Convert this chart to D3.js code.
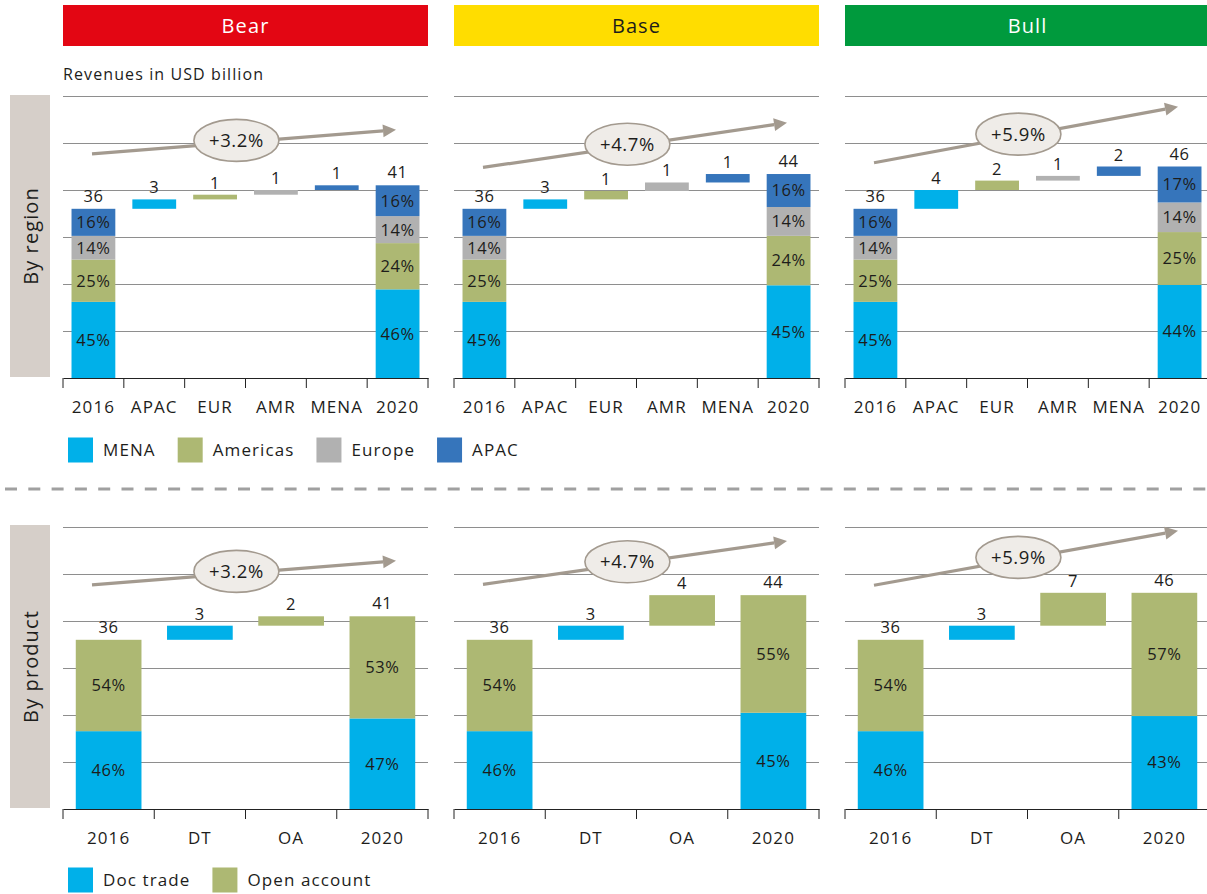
<!DOCTYPE html>
<html>
<head>
<meta charset="utf-8">
<script src="https://cdn.jsdelivr.net/npm/d3@7"></script>
<style>
  body { margin: 0; background: #fff; }
  text { font-family: "Open Sans", sans-serif; fill: #1d1d1b; letter-spacing: 0.6px; }
  text.wide { letter-spacing: 1.1px; }
</style>
</head>
<body>
<svg width="1207" height="894"></svg>
<script>
// scenarios
var scenarios = ['Bear', 'Base', 'Bull'];
var cagr = ['+3.2%', '+4.7%', '+5.9%'];

// by region
var regionCats = ['2016', 'APAC', 'EUR', 'AMR', 'MENA', '2020'];
var regionSeries = ['MENA', 'Americas', 'Europe', 'APAC'];
var regionStart = [36, 36, 36];
var regionEnd = [41, 44, 46];
var regionStepLabels = [[3, 1, 1, 1], [3, 1, 1, 1], [4, 2, 1, 2]];
var regionSteps = [[2, 1, 1, 1], [2, 1.8, 1.8, 1.8], [4, 2, 1, 2]];
var regionShare2016 = [[45, 25, 14, 16], [45, 25, 14, 16], [45, 25, 14, 16]];
var regionShare2020 = [[46, 24, 14, 16], [45, 24, 14, 16], [44, 25, 14, 17]];

// by product
var productCats = ['2016', 'DT', 'OA', '2020'];
var productSeries = ['Doc trade', 'Open account'];
var productStart = [36, 36, 36];
var productEnd = [41, 44, 46];
var productStepLabels = [[3, 2], [3, 4], [3, 7]];
var productSteps = [[3, 2], [3, 6.5], [3, 7]];
var productShare2016 = [[46, 54], [46, 54], [46, 54]];
var productShare2020 = [[47, 53], [45, 55], [43, 57]];

var gridTicks = [10, 20, 30, 40, 50, 60];

// CAGR arrow ends, in chart units
var regionArrow = [[47.7, 52.8], [44.8, 54.3], [45.8, 57.7]];
var productArrow = [[47.7, 52.8], [47.8, 57], [47.6, 59.2]];

var headerColors = ['#e30613', '#ffdd00', '#009a3d'];
var headerText = ['#fff', '#1d1d1b', '#fff'];
var seriesColors = ['#00b0e9', '#adb873', '#b1b1b1', '#3675bb'];
var arrowColor = '#a39a8f';

var svg = d3.select('svg');
var panelW = 365;
var panelX = [63, 454, 845];

// headers
scenarios.forEach(function(s, i) {
  svg.append('rect')
    .attr('x', panelX[i]).attr('y', 5)
    .attr('width', panelW).attr('height', 41)
    .attr('fill', headerColors[i]);
  svg.append('text')
    .attr('class', 'wide')
    .attr('x', panelX[i] + panelW / 2).attr('y', 26)
    .attr('dy', '0.35em')
    .attr('text-anchor', 'middle')
    .style('font-size', '20px')
    .style('fill', headerText[i])
    .text(s);
});

svg.append('text')
  .attr('class', 'wide')
  .attr('x', 63).attr('y', 80)
  .style('font-size', '16px')
  .text('Revenues in USD billion');

// side labels
function sideLabel(y0, y1, label) {
  svg.append('rect')
    .attr('x', 10).attr('y', y0)
    .attr('width', 40).attr('height', y1 - y0)
    .attr('fill', '#d6cfc9');
  svg.append('text')
    .attr('class', 'wide')
    .attr('transform', 'translate(31,' + (y0 + y1) / 2 + ') rotate(-90)')
    .attr('text-anchor', 'middle')
    .attr('dy', '0.35em')
    .style('font-size', '20px')
    .text(label);
}
sideLabel(95, 377, 'By region');
sideLabel(525, 808, 'By product');

// separator
svg.append('line')
  .attr('x1', 5).attr('x2', 1207)
  .attr('y1', 489).attr('y2', 489)
  .attr('stroke', '#a0a0a0')
  .attr('stroke-width', 3)
  .attr('stroke-dasharray', '12 11.3');

function drawPanel(opt) {
  var g = svg.append('g').attr('transform', 'translate(' + opt.x0 + ',0)');

  var x = d3.scaleBand()
    .domain(opt.cats)
    .range([0, panelW])
    .paddingInner(0.28)
    .paddingOuter(0.14);

  var y = d3.scaleLinear()
    .domain([0, 60])
    .range([opt.base, opt.base - 282]);

  // gridlines
  var grid = g.append('g')
    .call(d3.axisLeft(y).tickValues(gridTicks).tickSize(-panelW).tickFormat(''));
  grid.select('.domain').remove();
  grid.selectAll('line').attr('stroke', '#8e8e8e').attr('stroke-width', 1);

  var n = opt.cats.length;

  function stacked(cat, total, shares) {
    var cum = 0;
    shares.forEach(function(p, k) {
      var v = total * p / 100;
      var lo = cum, hi = cum + v;
      cum = hi;
      g.append('rect')
        .attr('x', x(cat)).attr('width', x.bandwidth())
        .attr('y', y(hi)).attr('height', y(lo) - y(hi))
        .attr('fill', seriesColors[k]);
      g.append('text')
        .attr('x', x(cat) + x.bandwidth() / 2)
        .attr('y', (y(lo) + y(hi)) / 2)
        .attr('dy', '0.36em')
        .attr('text-anchor', 'middle')
        .style('font-size', '16.5px')
        .text(p + '%');
    });
    return cum;
  }

  // 2016 stacked bar
  var top16 = stacked(opt.cats[0], opt.start, opt.share16);
  g.append('text')
    .attr('x', x(opt.cats[0]) + x.bandwidth() / 2)
    .attr('y', y(top16) - 7)
    .attr('text-anchor', 'middle')
    .style('font-size', '16.5px')
    .text(opt.start);

  // floating steps
  var cum = opt.start;
  opt.steps.forEach(function(v, k) {
    var cat = opt.cats[k + 1];
    var lo = cum, hi = cum + v;
    cum = hi;
    g.append('rect')
      .attr('x', x(cat)).attr('width', x.bandwidth())
      .attr('y', y(hi)).attr('height', y(lo) - y(hi))
      .attr('fill', seriesColors[k % opt.nSeries]);
    g.append('text')
      .attr('x', x(cat) + x.bandwidth() / 2)
      .attr('y', y(hi) - 6)
      .attr('text-anchor', 'middle')
      .style('font-size', '16.5px')
      .text(opt.stepLabels[k]);
  });

  // 2020 stacked bar, drawn to the end of the walk
  var sum20 = d3.sum(opt.share20);
  var top20 = stacked(opt.cats[n - 1], cum * 100 / sum20, opt.share20);
  g.append('text')
    .attr('x', x(opt.cats[n - 1]) + x.bandwidth() / 2)
    .attr('y', y(top20) - 7)
    .attr('text-anchor', 'middle')
    .style('font-size', '16.5px')
    .text(opt.end);

  // axis
  var ax = g.append('g')
    .attr('transform', 'translate(0,' + y(0) + ')')
    .call(d3.axisBottom(x).tickSize(0).tickPadding(23));
  ax.select('.domain').attr('stroke', '#222');
  ax.selectAll('text')
    .attr('font-family', null).attr('font-size', null)
    .attr('class', 'wide')
    .style('font-size', '17px')
    .style('fill', '#1d1d1b');
  d3.range(n + 1).forEach(function(i) {
    ax.append('line')
      .attr('x1', i * x.step()).attr('x2', i * x.step())
      .attr('y1', 0).attr('y2', 10)
      .attr('stroke', '#222');
  });

  // CAGR arrow
  var xa = 29, xb = 333;
  var ya = y(opt.arrow[0]), yb = y(opt.arrow[1]);
  var ang = Math.atan2(yb - ya, xb - xa);
  var hl = 13, hw = 6.5;
  var bx = xb - hl * Math.cos(ang), by = yb - hl * Math.sin(ang);
  g.append('line')
    .attr('x1', xa).attr('y1', ya)
    .attr('x2', bx).attr('y2', by)
    .attr('stroke', arrowColor).attr('stroke-width', 3.2);
  g.append('path')
    .attr('d', 'M' + xb + ',' + yb +
      'L' + (bx - hw * Math.sin(ang)) + ',' + (by + hw * Math.cos(ang)) +
      'L' + (bx + hw * Math.sin(ang)) + ',' + (by - hw * Math.cos(ang)) + 'Z')
    .attr('fill', arrowColor);
  var t = 0.475;
  var ex = xa + t * (xb - xa), ey = ya + t * (yb - ya) - 2;
  g.append('ellipse')
    .attr('cx', ex).attr('cy', ey)
    .attr('rx', 42.5).attr('ry', 21)
    .attr('fill', '#efece8')
    .attr('stroke', arrowColor).attr('stroke-width', 1.6);
  g.append('text')
    .attr('x', ex).attr('y', ey)
    .attr('dy', '0.36em')
    .attr('text-anchor', 'middle')
    .style('font-size', '18.5px')
    .text(opt.cagr);
}

scenarios.forEach(function(s, i) {
  drawPanel({
    x0: panelX[i], base: 378, cats: regionCats, nSeries: regionSeries.length,
    start: regionStart[i], end: regionEnd[i],
    steps: regionSteps[i], stepLabels: regionStepLabels[i],
    share16: regionShare2016[i], share20: regionShare2020[i],
    arrow: regionArrow[i], cagr: cagr[i]
  });
  drawPanel({
    x0: panelX[i], base: 809, cats: productCats, nSeries: productSeries.length,
    start: productStart[i], end: productEnd[i],
    steps: productSteps[i], stepLabels: productStepLabels[i],
    share16: productShare2016[i], share20: productShare2020[i],
    arrow: productArrow[i], cagr: cagr[i]
  });
});

// legends
function legend(series, cy) {
  var xpos = 68;
  series.forEach(function(s, k) {
    svg.append('rect')
      .attr('x', xpos).attr('y', cy - 12.5)
      .attr('width', 25).attr('height', 25)
      .attr('fill', seriesColors[k]);
    var t = svg.append('text')
      .attr('class', 'wide')
      .attr('x', xpos + 35).attr('y', cy)
      .attr('dy', '0.36em')
      .style('font-size', '17px')
      .text(s);
    xpos += 35 + t.node().getComputedTextLength() + 22;
  });
}
legend(regionSeries, 450);
legend(productSeries, 880);
</script>
</body>
</html>
